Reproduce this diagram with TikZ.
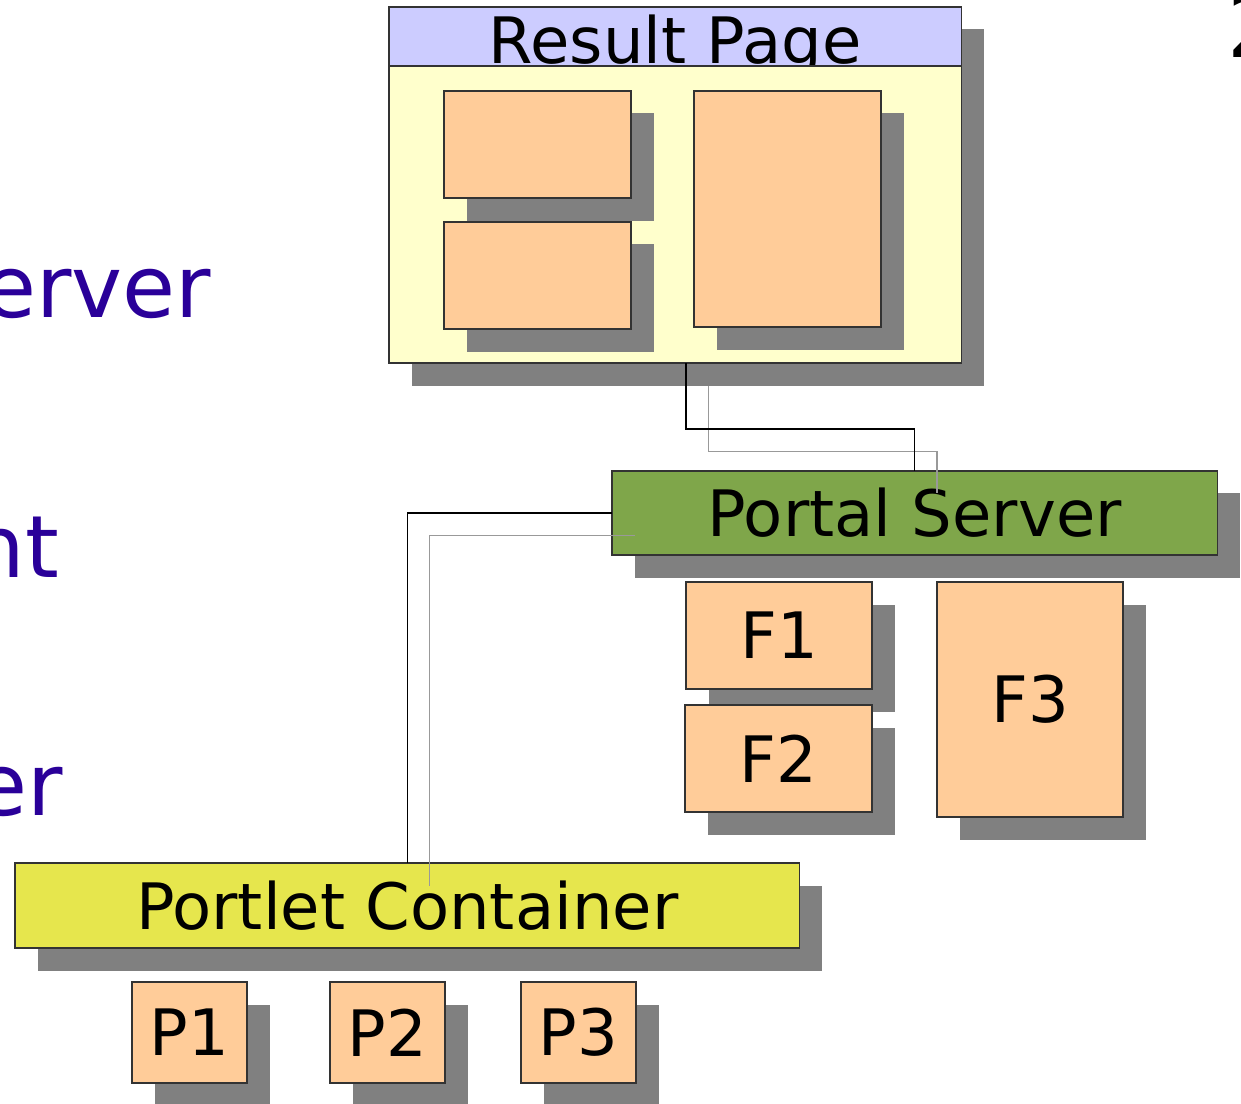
\documentclass[tikz,border=0pt]{standalone}
\usepackage{fontspec}
\setmainfont{DejaVu Sans}
\usetikzlibrary{shadows}
\definecolor{titleblue}{HTML}{CCCCFF}
\definecolor{pagecream}{HTML}{FFFFCC}
\definecolor{slotorange}{HTML}{FFCC99}
\definecolor{servergreen}{HTML}{7FA64A}
\definecolor{containeryellow}{HTML}{E6E64D}
\definecolor{shadowgray}{HTML}{808080}
\definecolor{lineshade}{HTML}{999999}
\definecolor{slideblue}{HTML}{2A0099}

\begin{document}
\begin{tikzpicture}[x=0.01cm,y=-0.01cm,
  pane/.style={draw=black!80,line width=0.4pt,inner sep=0pt,outer sep=0pt,anchor=north west,
    font=\fontsize{18.2}{22}\selectfont,
    drop shadow={shadow xshift=0.225cm,shadow yshift=-0.225cm,fill=shadowgray,opacity=1}},
  slot/.style={pane,fill=slotorange},
  link/.style={black,line width=0.4pt},
  linkshade/.style={lineshade,line width=0.4pt},
  side/.style={slideblue,anchor=base east,inner sep=0pt,font=\fontsize{24.5}{29}\selectfont}]

\useasboundingbox (0,0) rectangle (1241,1104);

% left edge of the slide
\node[side] (srv) at (212,318) {erver};
\node[side] (cli) at (60,578) {nt};
\node[side] (lay) at (64,816) {er};
\node[anchor=base west,inner sep=0pt,font=\fontsize{24.5}{29}\selectfont] (num) at (1227,58) {2};

% result page
\node[pane,fill=titleblue,minimum width=5.72cm,minimum height=0.59cm,text height=0.56cm,text depth=0.03cm] (title) at (389,7) {Result Page};
\node[pane,fill=pagecream,minimum width=5.72cm,minimum height=2.97cm] (body) at (389,66) {};
\node[slot,minimum width=1.87cm,minimum height=1.07cm] (win1) at (444,91) {};
\node[slot,minimum width=1.87cm,minimum height=1.07cm] (win2) at (444,222) {};
\node[slot,minimum width=1.87cm,minimum height=2.36cm] (win3) at (694,91) {};

% portal server and its fragments
\node[pane,fill=servergreen,minimum width=6.05cm,minimum height=0.84cm] (portal) at (612,471) {Portal Server};
\node[slot,minimum width=1.86cm,minimum height=1.07cm] (f1) at (686,582) {F1};
\node[slot,minimum width=1.87cm,minimum height=1.07cm] (f2) at (685,705) {F2};
\node[slot,minimum width=1.86cm,minimum height=2.35cm] (f3) at (937,582) {F3};

% portlet container and portlets
\node[pane,fill=containeryellow,minimum width=7.84cm,minimum height=0.85cm] (container) at (15,863) {Portlet Container};
\node[slot,minimum width=1.15cm,minimum height=1.01cm] (p1) at (132,982) {P1};
\node[slot,minimum width=1.15cm,minimum height=1.01cm] (p2) at (330,982) {P2};
\node[slot,minimum width=1.15cm,minimum height=1.01cm] (p3) at (521,982) {P3};

% connectors
\draw[linkshade] ([xshift=0.335cm,yshift=-0.225cm]body.south) -- ++(0,66) -| ([xshift=0.225cm,yshift=-0.225cm]portal.north);
\draw[link] ([xshift=0.11cm]body.south) -- ++(0,66) -| (portal.north);
\draw[linkshade] ([xshift=0.225cm,yshift=-0.225cm]portal.west) -| ([xshift=0.225cm,yshift=-0.225cm]container.north);
\draw[link] (portal.west) -| (container.north);

\end{tikzpicture}
\end{document}
